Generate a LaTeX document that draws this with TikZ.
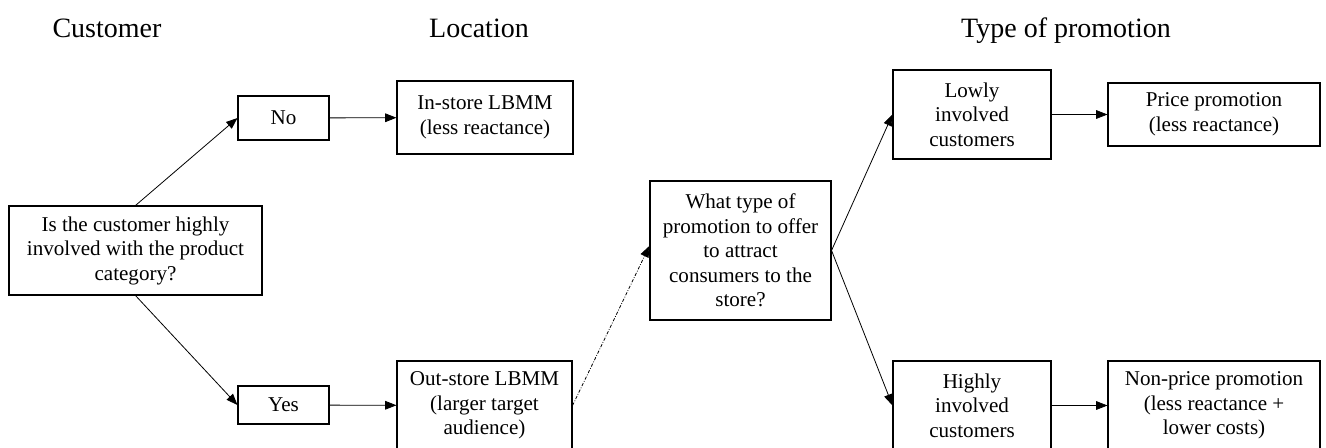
\documentclass[tikz,border=0pt]{standalone}
\usepackage{fontspec}
\setmainfont{Liberation Serif}
\usetikzlibrary{arrows.meta}

\tikzset{every picture/.style={line width=0.75pt}}
\tikzset{
  stagebox/.style={draw, line width=0.8pt, align=center, inner sep=0pt,
    font=\fontsize{15.8}{18.4}\selectfont},
  headtext/.style={anchor=base, font=\fontsize{21}{24}\selectfont},
  flow/.style={line width=0.6pt, -{Triangle[length=8.5pt,width=6.5pt]}},
  guess/.style={flow, dash pattern=on 2.4pt off 1.2pt on 0.6pt off 1.2pt}
}

\begin{document}
\begin{tikzpicture}[x=0.75pt,y=0.75pt,yscale=-1,xscale=1]
\useasboundingbox (0,0) rectangle (1326,447);

% Text Node
\node[headtext] (hcust) at (107,37) {Customer};
% Text Node
\node[headtext] (hloc) at (479,37) {Location};
% Text Node
\node[headtext] (htype) at (1066,37) {Type of promotion};

% Text Node
\node[stagebox, minimum width=253*0.75pt, minimum height=89*0.75pt] (involved) at (135.5,250.5)
  {Is the customer highly\\involved with the product\\category?};
% Text Node
\node[stagebox, minimum width=91*0.75pt, minimum height=44*0.75pt] (no) at (283.5,118) {No};
% Text Node
\node[stagebox, minimum width=91*0.75pt, minimum height=38*0.75pt] (yes) at (283.5,405) {Yes};
% Text Node
\node[stagebox, minimum width=176*0.75pt, minimum height=73*0.75pt] (instore) at (485,117.5)
  {In-store LBMM\\(less reactance)};
% Text Node
\node[stagebox, minimum width=175*0.75pt, minimum height=89*0.75pt] (outstore) at (484.5,405.5)
  {Out-store LBMM\\(larger target\\audience)};
% Text Node
\node[stagebox, minimum width=181*0.75pt, minimum height=139*0.75pt] (whattype) at (740.5,250.5)
  {What type of\\promotion to offer\\to attract\\consumers to the\\store?};
% Text Node
\node[stagebox, minimum width=158*0.75pt, minimum height=89*0.75pt] (lowly) at (972,114.5)
  {Lowly\\involved\\customers};
% Text Node
\node[stagebox, minimum width=158*0.75pt, minimum height=89*0.75pt] (highly) at (972,405.5)
  {Highly\\involved\\customers};
% Text Node
\node[stagebox, minimum width=212*0.75pt, minimum height=63*0.75pt] (price) at (1214,114.5)
  {Price promotion\\(less reactance)};
% Text Node
\node[stagebox, minimum width=212*0.75pt, minimum height=89*0.75pt] (nonprice) at (1214,405.5)
  {Non-price promotion\\(less reactance +\\lower costs)};

%Straight Lines
\draw[flow] (involved.north) -- (no.west);
\draw[flow] (involved.south) -- (yes.west);
\draw[flow] (no) -- (instore);
\draw[flow] (yes) -- (outstore);
\draw[guess] (outstore.east) -- ([yshift=-3.5pt]whattype.west);
\draw[flow] (whattype.east) -- (lowly.west);
\draw[flow] (whattype.east) -- (highly.west);
\draw[flow] (lowly) -- (price);
\draw[flow] (highly) -- (nonprice);

\end{tikzpicture}
\end{document}
